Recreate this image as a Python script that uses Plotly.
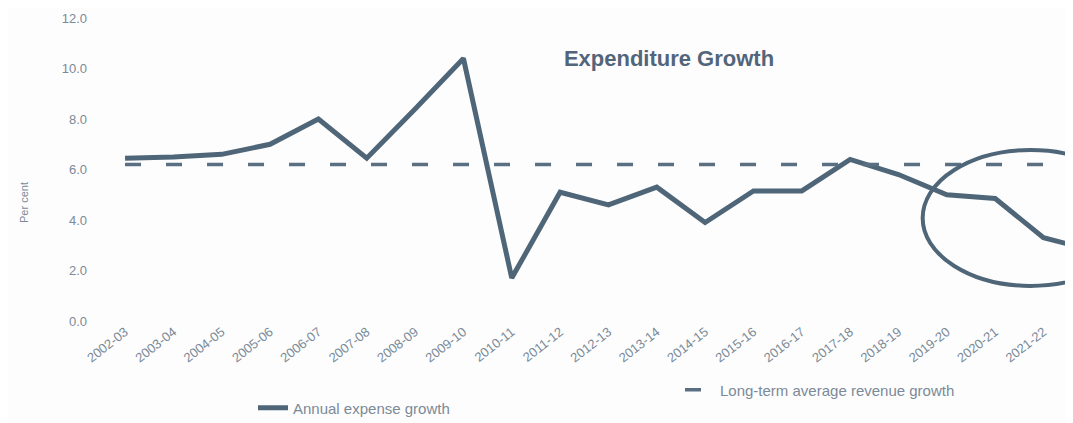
import plotly.graph_objects as go

years = ["2002-03", "2003-04", "2004-05", "2005-06", "2006-07", "2007-08", "2008-09",
         "2009-10", "2010-11", "2011-12", "2012-13", "2013-14", "2014-15", "2015-16",
         "2016-17", "2017-18", "2018-19", "2019-20", "2020-21", "2021-22", "2022-23"]

annual_expense_growth = [6.45, 6.5, 6.6, 7.0, 8.0, 6.45, 8.4, 10.4, 1.7, 5.1, 4.6, 5.3,
                         3.9, 5.15, 5.15, 6.4, 5.8, 5.0, 4.85, 3.3, 2.8]

revenue_avg_value = 6.2
long_term_avg_revenue_growth = [revenue_avg_value] * len(years)

line_col = "#4f6679"
text_col = "#7b8a98"
font_family = "Liberation Sans, Arial, sans-serif"

W, H = 1065, 415  # page body has an 8px margin inside the 1073x423 window

fig = go.Figure()
fig.add_trace(go.Scatter(
    x=years, y=annual_expense_growth, mode="lines",
    name="Annual expense growth",
    line=dict(color=line_col, width=5),
    legend="legend",
))
fig.add_trace(go.Scatter(
    x=years, y=long_term_avg_revenue_growth, mode="lines",
    name="Long-term average revenue growth",
    line=dict(color="#5b6f82", width=3.5, dash="16px,25px"),
    legend="legend2",
))

# hand-drawn circle on the photocopy
fig.add_shape(type="circle", xref="x", yref="y",
              x0=16.5, x1=20.96, y0=1.39, y1=6.77,
              line=dict(color=line_col, width=4))

plot_l, plot_t, plot_b = 80, 10, 313
fig.update_layout(
    width=W, height=H,
    margin=dict(l=plot_l, r=0, t=plot_t, b=H - plot_b, autoexpand=False),
    paper_bgcolor="#fdfdfd", plot_bgcolor="#fdfdfd",
    font=dict(family=font_family, color=text_col, size=12),
    title=dict(text="<b>Expenditure Growth</b>", x=661/W, xanchor="center",
               y=1-50/H, yanchor="middle", yref="container",
               font=dict(size=22, color="#52657a", family=font_family)),
    xaxis=dict(type="category", range=[-0.766, 19.61], showgrid=False, zeroline=False,
               showline=False, ticks="", tickangle=-38,
               tickfont=dict(size=13, color=text_col)),
    yaxis=dict(range=[0, 12], dtick=2, tickformat=".1f", showgrid=False, zeroline=False,
               showline=False, ticks="", tickfont=dict(size=13, color=text_col)),
    legend=dict(orientation="h", xref="container", yref="container",
                x=245/W, y=(H-400)/H, xanchor="left", yanchor="middle",
                font=dict(size=15, color=text_col), bgcolor="rgba(0,0,0,0)"),
    legend2=dict(orientation="h", xref="container", yref="container",
                 x=672/W, y=(H-382)/H, xanchor="left", yanchor="middle",
                 font=dict(size=15, color=text_col), bgcolor="rgba(0,0,0,0)"),
    annotations=[dict(text="Per cent", textangle=-90, xref="paper", yref="paper",
                      x=(16-plot_l)/(W-plot_l), y=(plot_b-195)/(plot_b-plot_t),
                      xanchor="center", yanchor="middle",
                      showarrow=False, font=dict(size=11, color=text_col))],
    showlegend=True,
)

fig.write_html("out.html")
